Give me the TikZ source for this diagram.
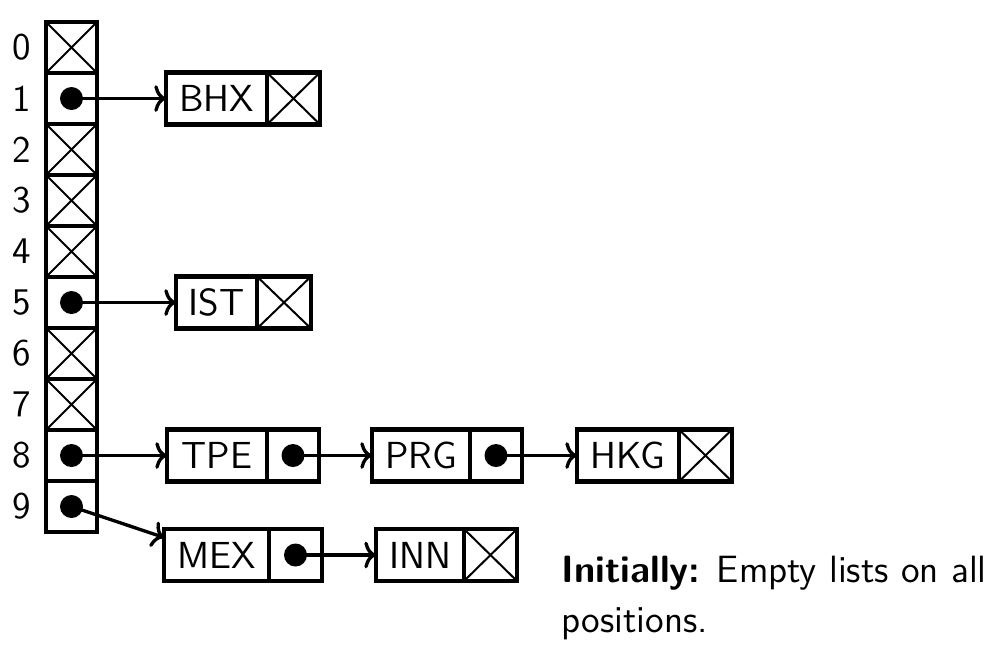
\documentclass[tikz,border=0pt]{standalone}
\usepackage{fontspec}
\usetikzlibrary{arrows.meta}
\begin{document}
\begin{tikzpicture}[x=0.3pt,y=-0.3pt,
  font=\sffamily\fontsize{11.3}{14}\selectfont,
  cell/.style={draw, line width=1.35pt, inner sep=0pt, outer sep=0pt,
    minimum width=15.3pt, minimum height=15.3pt},
  nullcell/.style={cell, path picture={\draw[line width=0.6pt]
    (path picture bounding box.north west) -- (path picture bounding box.south east)
    (path picture bounding box.north east) -- (path picture bounding box.south west);}},
  ptrcell/.style={cell},
  textcell/.style={draw, line width=1.35pt, inner sep=0pt, outer sep=0pt, minimum height=15.6pt},
  boxcell/.style={cell, minimum height=15.6pt, anchor=west},
  arr/.style={-{To[width=8pt,length=3.5pt]}, line width=1pt},
  dotmark/.style={fill=black}
]
\useasboundingbox (0,0) rectangle (994,646);
% array
\foreach \i/\kind in {0/nullcell,1/ptrcell,2/nullcell,3/nullcell,4/nullcell,5/ptrcell,6/nullcell,7/nullcell,8/ptrcell,9/ptrcell}{
  \node[\kind] (a\i) at (71.5,{47.5+51*\i}) {};
  \node (l\i) at (22,{47.5+51*\i}) {\i};
}
\foreach \i in {1,5,8,9}{\fill[dotmark] (a\i.center) circle (3.45pt);}
% row 1
\node[textcell, minimum width=30.3pt] (bhx) at (216.5,98.5) {BHX};
\node[boxcell, nullcell, minimum width=15.9pt, minimum height=15.6pt] (bhxn) at (bhx.east) {};
% row 5
\node[textcell, minimum width=24.3pt] (ist) at (216.5,302.5) {IST};
\node[boxcell, nullcell, minimum width=16.2pt, minimum height=15.6pt] (istn) at (ist.east) {};
% row 8
\node[textcell, minimum width=30pt] (tpe) at (217,455.5) {TPE};
\node[boxcell, minimum width=15.6pt] (tpep) at (tpe.east) {};
\node[textcell, minimum width=29.4pt] (prg) at (421,455.5) {PRG};
\node[boxcell, minimum width=15.6pt] (prgp) at (prg.east) {};
\node[textcell, minimum width=30.6pt] (hkg) at (628,455.5) {HKG};
\node[boxcell, nullcell, minimum width=15.9pt, minimum height=15.6pt] (hkgn) at (hkg.east) {};
% row 9
\node[textcell, minimum width=31.5pt] (mex) at (216.5,555) {MEX};
\node[boxcell, minimum width=15.9pt] (mexp) at (mex.east) {};
\node[textcell, minimum width=26.4pt] (inn) at (420,555) {INN};
\node[boxcell, nullcell, minimum width=15.9pt, minimum height=15.6pt] (innn) at (inn.east) {};
\foreach \n in {tpep,prgp,mexp}{\fill[dotmark] (\n.center) circle (3.45pt);}
% arrows
\draw[arr] (a1.center) -- (bhx.west);
\draw[arr] (a5.center) -- (ist.west);
\draw[arr] (a8.center) -- (tpe.west);
\draw[arr] (a9.center) -- (mex);
\draw[arr] (tpep.center) -- (prg.west);
\draw[arr] (prgp.center) -- (hkg.west);
\draw[arr] (mexp.center) -- (inn.west);
% text
\node[anchor=base west, inner sep=0pt, font=\sffamily\fontsize{11.4}{15}\selectfont] (txt1) at (561,582) {\textbf{Initially:} Empty lists on all};
\node[anchor=base west, inner sep=0pt, font=\sffamily\fontsize{11.4}{15}\selectfont] (txt2) at (561,632) {positions.};
\end{tikzpicture}
\end{document}
